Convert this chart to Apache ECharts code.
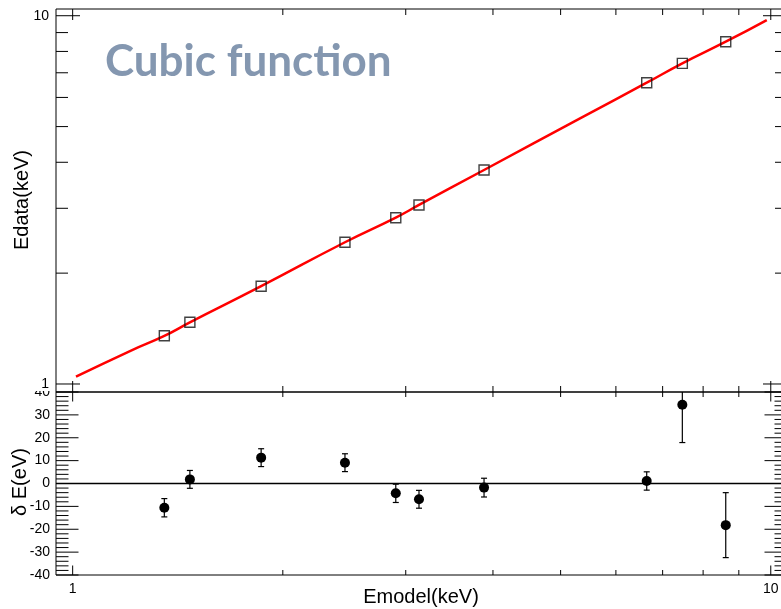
<!DOCTYPE html>
<html>
<head>
<meta charset="utf-8">
<title>Cubic function</title>
<script src="https://cdn.jsdelivr.net/npm/echarts@6/dist/echarts.min.js"></script>
<style>
  html, body { margin: 0; padding: 0; background: #fff; }
  #chart { width: 781px; height: 609px; }
</style>
</head>
<body>
<div id="chart"></div>
<script>
// Calibration lines: model energy vs measured energy (keV)
const emodel = [1.353, 1.472, 1.862, 2.455, 2.903, 3.134, 3.884, 6.642, 7.470, 8.620];
const edata  = [1.352, 1.471, 1.842, 2.425, 2.829, 3.062, 3.811, 6.577, 7.426, 8.500];

// Cubic calibration curve
const fitEmodel = [1.011, 1.208, 1.353, 1.472, 1.862, 2.455, 2.903, 3.134, 3.884, 5.331, 6.642, 7.470, 8.620, 9.869];
const fitEdata  = [1.047, 1.229, 1.351, 1.470, 1.843, 2.426, 2.830, 3.063, 3.812, 5.266, 6.578, 7.426, 8.502, 9.735];

// Residuals of the fit (eV) with 1-sigma errors
const residual    = [-10.6, 1.8, 11.3, 9.1, -4.3, -6.9, -1.8, 1.1, 34.4, -18.2];
const residualErr = [4.0, 3.9, 3.9, 3.9, 4.0, 3.9, 4.1, 4.0, 16.5, 14.2];

// Tick positions and labels
const xMajorTicks = [1, 10];
const xMinorTicks = [2, 3, 4, 5, 6, 7, 8, 9];
const xTickLabels = ['1', '10'];
const eMajorTicks = [1, 10];
const eMinorTicks = [2, 3, 4, 5, 6, 7, 8, 9];
const eTickLabels = ['1', '10'];
const dMajorTicks = [-40, -30, -20, -10, 0, 10, 20, 30, 40];
const dMinorTicks = [-38, -36, -34, -32, -28, -26, -24, -22, -18, -16, -14, -12, -8, -6, -4, -2,
                     2, 4, 6, 8, 12, 14, 16, 18, 22, 24, 26, 28, 32, 34, 36, 38];
const dTickLabels = ['-40', '-30', '-20', '-10', '0', '10', '20', '30', '40'];

// Axis ranges
const X_MIN = 0.9465, X_MAX = 10.55;
const E_MIN = 0.9512, E_MAX = 10.43;
const D_MIN = -40, D_MAX = 40;

const FONT = '"Liberation Sans", Arial, Helvetica, sans-serif';

function labelFor(values, labels) {
  return function (v) {
    for (let i = 0; i < values.length; i++) {
      if (Math.abs(v - values[i]) <= 1e-6 * Math.max(1, Math.abs(values[i]))) return labels[i];
    }
    return '';
  };
}

// Inward ticks on all four sides of a frame
function frameTicks(xMaj, xMin, yMaj, yMin, xRef, yRef, len) {
  return function (params, api) {
    const cs = params.coordSys;
    const L = cs.x, R = cs.x + cs.width, T = cs.y, B = cs.y + cs.height;
    const children = [];
    const seg = (x1, y1, x2, y2) => children.push({
      type: 'line', shape: { x1, y1, x2, y2 }, style: { stroke: '#000', lineWidth: 1 }
    });
    const xt = (v, l) => { const px = api.coord([v, yRef])[0]; seg(px, B, px, B - l); seg(px, T, px, T + l); };
    const yt = (v, l) => { const py = api.coord([xRef, v])[1]; seg(L, py, L + l, py); seg(R, py, R - l, py); };
    xMaj.forEach(v => xt(v, len.xMaj));
    xMin.forEach(v => xt(v, len.xMin));
    yMaj.forEach(v => yt(v, len.yMaj));
    yMin.forEach(v => yt(v, len.yMin));
    return { type: 'group', children };
  };
}

const chart = echarts.init(document.getElementById('chart'), null, { renderer: 'canvas' });

const axisCommon = {
  axisLine: { show: false },
  axisTick: { show: false },
  splitLine: { show: false },
  minorSplitLine: { show: false }
};

const gridCommon = {
  show: true, borderColor: '#000', borderWidth: 1, backgroundColor: 'transparent',
  containLabel: false, outerBoundsMode: 'none'
};

chart.setOption({
  animation: false,
  backgroundColor: '#fff',
  grid: [
    Object.assign({ left: 56, top: 9, width: 731, height: 383 }, gridCommon),
    Object.assign({ left: 56, top: 392, width: 731, height: 183 }, gridCommon)
  ],
  xAxis: [
    Object.assign({ gridIndex: 0, type: 'log', logBase: 10, min: X_MIN, max: X_MAX,
      axisLabel: { show: false } }, axisCommon),
    Object.assign({ gridIndex: 1, type: 'log', logBase: 10, min: X_MIN, max: X_MAX,
      axisLabel: { formatter: labelFor(xMajorTicks, xTickLabels), fontSize: 14, color: '#000',
                   fontFamily: FONT, margin: 7 } }, axisCommon)
  ],
  yAxis: [
    Object.assign({ gridIndex: 0, type: 'log', logBase: 10, min: E_MIN, max: E_MAX, z: 100,
      axisLabel: { formatter: labelFor(eMajorTicks, eTickLabels), fontSize: 14, color: '#000',
                   fontFamily: FONT, margin: 7 } }, axisCommon),
    Object.assign({ gridIndex: 1, type: 'value', min: D_MIN, max: D_MAX, interval: 10, z: 1,
      axisLabel: { formatter: labelFor(dMajorTicks, dTickLabels), fontSize: 14, color: '#000',
                   fontFamily: FONT, margin: 6 } }, axisCommon)
  ],
  graphic: [
    // top panel covers the upper half of the lower panel's last label
    { type: 'rect', shape: { x: 18, y: 375, width: 37, height: 16 }, style: { fill: '#fff' }, z: 50, silent: true },
    { type: 'text', x: 105, y: 62, z: 60,
      style: { text: 'Cubic func\u200Ction', font: 'bold 44px Lato, "Open Sans", sans-serif', fill: '#8497b0', verticalAlign: 'middle' } },
    { type: 'text', x: 22, y: 200, rotation: Math.PI / 2, z: 60,
      style: { text: 'Edata(keV)', font: '20px ' + FONT, fill: '#000', align: 'center', verticalAlign: 'middle' } },
    { type: 'text', x: 20, y: 482, rotation: Math.PI / 2, z: 60,
      style: { text: 'δ E(eV)', font: '20px ' + FONT, fill: '#000', align: 'center', verticalAlign: 'middle' } },
    { type: 'text', x: 421, y: 597, z: 60,
      style: { text: 'Emodel(keV)', font: '20px ' + FONT, fill: '#000', align: 'center', verticalAlign: 'middle' } }
  ],
  series: [
    {
      name: 'frame ticks top', type: 'custom', xAxisIndex: 0, yAxisIndex: 0, silent: true, clip: false,
      data: [[1, 1]], z: 10,
      renderItem: frameTicks(xMajorTicks, xMinorTicks, eMajorTicks, eMinorTicks, 1, 1,
                             { xMaj: 11, xMin: 6, yMaj: 24, yMin: 12 })
    },
    {
      name: 'frame ticks bottom', type: 'custom', xAxisIndex: 1, yAxisIndex: 1, silent: true, clip: false,
      data: [[1, 0]], z: 10,
      renderItem: frameTicks(xMajorTicks, xMinorTicks, dMajorTicks, dMinorTicks, 1, 0,
                             { xMaj: 9.5, xMin: 5, yMaj: 22.5, yMin: 12.5 })
    },
    {
      name: 'cubic fit', type: 'line', xAxisIndex: 0, yAxisIndex: 0,
      data: fitEmodel.map((x, i) => [x, fitEdata[i]]),
      showSymbol: false, smooth: true, z: 2,
      lineStyle: { color: '#ff0000', width: 2.5 }
    },
    {
      name: 'lines', type: 'scatter', xAxisIndex: 0, yAxisIndex: 0,
      data: emodel.map((x, i) => [x, edata[i]]),
      symbol: 'rect', symbolSize: 10, z: 3,
      itemStyle: { color: 'rgba(0,0,0,0)', borderColor: '#111', borderWidth: 1.4 }
    },
    {
      name: 'residual errors', type: 'custom', xAxisIndex: 1, yAxisIndex: 1, clip: true, silent: true,
      data: emodel.map((x, i) => [x, residual[i] - residualErr[i], residual[i] + residualErr[i]]),
      encode: { x: 0, y: [1, 2] }, z: 3,
      renderItem: function (params, api) {
        const lo = api.coord([api.value(0), api.value(1)]);
        const hi = api.coord([api.value(0), api.value(2)]);
        const c = 3;
        const st = { stroke: '#000', lineWidth: 1.2 };
        return {
          type: 'group', children: [
            { type: 'line', shape: { x1: lo[0], y1: lo[1], x2: hi[0], y2: hi[1] }, style: st },
            { type: 'line', shape: { x1: lo[0] - c, y1: lo[1], x2: lo[0] + c, y2: lo[1] }, style: st },
            { type: 'line', shape: { x1: hi[0] - c, y1: hi[1], x2: hi[0] + c, y2: hi[1] }, style: st }
          ]
        };
      }
    },
    {
      name: 'residuals', type: 'scatter', xAxisIndex: 1, yAxisIndex: 1,
      data: emodel.map((x, i) => [x, residual[i]]),
      symbol: 'circle', symbolSize: 10, z: 4,
      itemStyle: { color: '#000', opacity: 1 },
      markLine: {
        silent: true, symbol: 'none', label: { show: false },
        lineStyle: { color: '#000', width: 1.3, type: 'solid' },
        data: [{ yAxis: 0 }]
      }
    }
  ]
});
</script>
</body>
</html>
